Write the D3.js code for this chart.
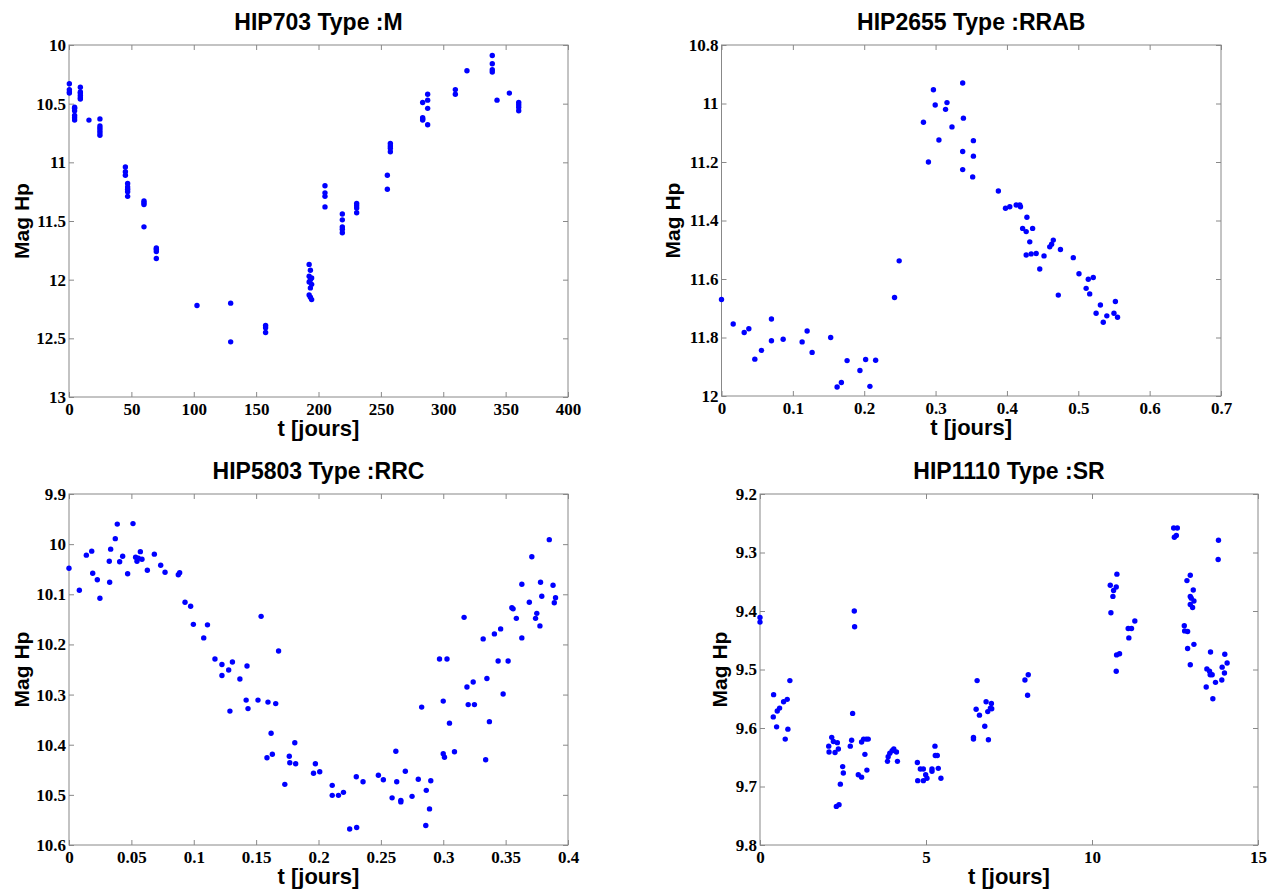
<!DOCTYPE html>
<html>
<head>
<meta charset="utf-8">
<script src="https://cdn.jsdelivr.net/npm/d3@7"></script>
<style>
  body { margin: 0; background: #fff; }
  .tick text { font-family: "Liberation Serif", "Times New Roman", serif; font-weight: bold; font-size: 17px; fill: #000; }
  .tick line { stroke: #888; }
</style>
</head>
<body>
<div id="chart"></div>
<script>
// HIP703, type M
const hip703T = [
  0.3, 0.3, 0.3, 0.3,
  4.5, 4.5, 4.5, 4.5, 4.5, 4.5,
  9.1, 9.1, 9.1, 9.1, 9.1, 9.1,
  16,
  24.8, 24.8, 24.8, 24.8, 24.8, 24.8,
  45.2, 45.2, 45.2, 47, 47, 47, 47, 47,
  60.1, 60.1, 60.1, 60.1,
  70, 70, 70, 70,
  102.6,
  129.6, 129.6,
  157.6, 157.6, 157.6,
  192.5, 193.5, 192.5, 194.5, 193.5, 192.5, 194.5, 193.5, 192.5, 193.5, 194.5,
  205.2, 205.2, 205.2, 205.2,
  219.1, 219.1, 219.1, 219.1, 219.1,
  230.6, 230.6, 230.6, 230.6,
  255.2, 255.2,
  257.6, 257.6, 257.6, 257.6,
  283.5, 283.5, 283.5, 283.5,
  287.5, 287.5, 287.5, 287.5,
  309.7, 309.7,
  319,
  339.3, 339.3, 339.3, 339.3,
  343.1,
  353,
  360.5, 360.5, 360.5, 360.5
];
const hip703Mag = [
  10.33, 10.38, 10.40, 10.41,
  10.53, 10.54, 10.56, 10.60, 10.62, 10.64,
  10.36, 10.40, 10.41, 10.43, 10.45, 10.46,
  10.64,
  10.63, 10.69, 10.71, 10.73, 10.75, 10.77,
  11.04, 11.08, 11.11, 11.18, 11.21, 11.23, 11.25, 11.29,
  11.33, 11.345, 11.36, 11.55,
  11.73, 11.74, 11.76, 11.82,
  12.22,
  12.20, 12.53,
  12.39, 12.41, 12.45,
  11.87, 11.92, 11.97, 11.985, 12.00, 12.02, 12.04, 12.07, 12.13, 12.15, 12.17,
  11.20, 11.26, 11.29, 11.38,
  11.44, 11.49, 11.55, 11.57, 11.60,
  11.35, 11.37, 11.39, 11.43,
  11.11, 11.23,
  10.84, 10.86, 10.88, 10.91,
  10.49, 10.62, 10.63, 10.64,
  10.42, 10.47, 10.54, 10.68,
  10.38, 10.42,
  10.22,
  10.09, 10.16, 10.21, 10.23,
  10.47,
  10.41,
  10.49, 10.51, 10.53, 10.56
];

// HIP2655, type RRAB
const hip2655T = [
  0, 0.0164, 0.0318, 0.0383, 0.0467, 0.056, 0.070, 0.070, 0.0864, 0.113,
  0.120, 0.127, 0.153, 0.162, 0.168, 0.176, 0.194, 0.202, 0.208, 0.216,
  0.2425, 0.249, 0.283, 0.290, 0.297, 0.2995, 0.3047, 0.314, 0.316, 0.323,
  0.338, 0.338, 0.339, 0.338, 0.353, 0.353, 0.352,
  0.388, 0.398, 0.404, 0.413, 0.418, 0.419, 0.428, 0.422, 0.427, 0.436,
  0.432, 0.427, 0.434, 0.441, 0.452, 0.446, 0.460, 0.4626, 0.465, 0.475,
  0.472, 0.493, 0.501, 0.511, 0.514, 0.516, 0.521, 0.525, 0.531, 0.535,
  0.540, 0.550, 0.552, 0.555
];
const hip2655Mag = [
  11.67, 11.754, 11.783, 11.770, 11.874, 11.844, 11.811, 11.737, 11.806, 11.815,
  11.778, 11.851, 11.80, 11.969, 11.954, 11.879, 11.913, 11.875, 11.967, 11.878,
  11.663, 11.538, 11.064, 11.20, 10.953, 11.005, 11.125, 11.02, 10.997, 11.08,
  11.164, 10.93, 11.05, 11.226, 11.127, 11.18, 11.251,
  11.299, 11.358, 11.353, 11.347, 11.347, 11.353, 11.389, 11.427, 11.438, 11.427,
  11.473, 11.518, 11.514, 11.513, 11.521, 11.566, 11.49, 11.481, 11.467, 11.499,
  11.655, 11.527, 11.582, 11.632, 11.601, 11.651, 11.595, 11.717, 11.689, 11.748,
  11.726, 11.717, 11.677, 11.731
];

// HIP5803, type RRC
const hip5803T = [
  0, 0.0083, 0.0139, 0.0182, 0.019, 0.0227, 0.0248, 0.0323, 0.0326, 0.0334,
  0.0371, 0.0387, 0.0406, 0.043, 0.047, 0.0513, 0.0534, 0.0545, 0.0556, 0.0572,
  0.0585, 0.0628, 0.0684, 0.0735, 0.077, 0.0876, 0.0887, 0.093, 0.0975, 0.0997,
  0.111, 0.108, 0.117, 0.1226, 0.1226, 0.128, 0.131, 0.129, 0.137, 0.1427,
  0.142, 0.1435, 0.1515, 0.154, 0.1595, 0.162, 0.1587, 0.163, 0.1657, 0.168,
  0.173, 0.1766, 0.177, 0.181, 0.1817, 0.196, 0.1975, 0.201,
  0.211, 0.211, 0.216, 0.220, 0.225, 0.2306, 0.2303, 0.2357, 0.248, 0.252,
  0.259, 0.262, 0.2627, 0.266, 0.266, 0.2696, 0.275, 0.280, 0.286, 0.2864,
  0.289, 0.290, 0.2827, 0.297, 0.303, 0.300, 0.300, 0.301, 0.305, 0.309,
  0.3167, 0.319, 0.320, 0.325, 0.324, 0.332, 0.334, 0.335, 0.337, 0.341,
  0.344, 0.346, 0.348, 0.352, 0.355, 0.356, 0.3586, 0.363, 0.363, 0.369,
  0.371, 0.374, 0.375, 0.3775, 0.378, 0.379, 0.385, 0.388, 0.389, 0.390
];
const hip5803Mag = [
  10.048, 10.092, 10.022, 10.014, 10.058, 10.071, 10.108, 10.034, 10.076, 10.01,
  9.989, 9.96, 10.035, 10.024, 10.059, 9.959, 10.026, 10.034, 10.028, 10.015,
  10.03, 10.052, 10.02, 10.042, 10.056, 10.061, 10.057, 10.116, 10.124, 10.16,
  10.161, 10.187, 10.229, 10.24, 10.262, 10.251, 10.235, 10.333, 10.269, 10.243,
  10.311, 10.328, 10.311, 10.144, 10.315, 10.377, 10.426, 10.419, 10.318, 10.213,
  10.479, 10.423, 10.436, 10.396, 10.438, 10.457, 10.438, 10.454,
  10.481, 10.501, 10.501, 10.495, 10.568, 10.565, 10.464, 10.474, 10.461, 10.47,
  10.506, 10.413, 10.474, 10.511, 10.514, 10.453, 10.503, 10.469, 10.561, 10.491,
  10.528, 10.472, 10.325, 10.229, 10.229, 10.313, 10.418, 10.425, 10.357, 10.414,
  10.146, 10.285, 10.32, 10.32, 10.275, 10.189, 10.43, 10.268, 10.354, 10.179,
  10.233, 10.169, 10.299, 10.233, 10.127, 10.129, 10.148, 10.08, 10.187, 10.116,
  10.025, 10.148, 10.138, 10.163, 10.076, 10.104, 9.991, 10.082, 10.117, 10.107
];

// HIP1110, type SR
const hip1110T = [
  0, 0, 0.40, 0.41, 0.50, 0.52, 0.59, 0.76, 0.71, 0.82, 0.84, 0.90,
  2.07, 2.08, 2.16, 2.21, 2.26, 2.33, 2.36, 2.30, 2.38, 2.42, 2.49, 2.51,
  2.72, 2.76, 2.79, 2.84, 2.85, 2.96, 3.06, 3.06, 3.12, 3.16, 3.20, 3.26, 3.22,
  3.84, 3.86, 3.91, 3.98, 4.03, 4.11, 4.14,
  4.74, 4.75, 4.83, 4.92, 4.92, 4.99, 5.03, 5.18, 5.18, 5.27, 5.28, 5.34, 5.37, 5.45,
  6.43, 6.43, 6.51, 6.54, 6.61, 6.77, 6.81, 6.86, 6.88, 6.94, 6.97, 6.98,
  7.98, 8.08, 8.06,
  10.55, 10.75, 10.73, 10.65, 10.63, 10.57, 10.74, 10.83, 10.73,
  11.29, 11.19, 11.09, 11.11,
  12.46, 12.57, 12.48, 12.54, 13.81, 13.80,
  12.96, 12.86, 13.05, 12.96, 12.99, 13.07, 12.96, 13.03, 12.78, 12.79, 12.88,
  13.07, 12.88, 12.96,
  13.57, 14.00, 14.07, 13.92, 13.46, 13.54, 13.56, 13.62, 13.99, 13.72, 13.91,
  13.44, 13.64
];
const hip1110Mag = [
  9.411, 9.419, 9.581, 9.543, 9.598, 9.571, 9.566, 9.619, 9.555, 9.551, 9.602, 9.519,
  9.631, 9.641, 9.616, 9.623, 9.642, 9.625, 9.636, 9.734, 9.731, 9.696, 9.666, 9.677,
  9.631, 9.621, 9.575, 9.40, 9.427, 9.68, 9.684, 9.624, 9.619, 9.645, 9.619, 9.619, 9.672,
  9.657, 9.649, 9.643, 9.639, 9.636, 9.641, 9.657,
  9.659, 9.69, 9.67, 9.69, 9.67, 9.68, 9.686, 9.67, 9.674, 9.631, 9.647, 9.647, 9.669, 9.686,
  9.616, 9.619, 9.568, 9.519, 9.578, 9.597, 9.555, 9.572, 9.62, 9.566, 9.558, 9.567,
  9.518, 9.509, 9.544,
  9.356, 9.337, 9.359, 9.365, 9.375, 9.403, 9.475, 9.473, 9.503,
  9.417, 9.43, 9.43, 9.446,
  9.258, 9.258, 9.274, 9.271, 9.279, 9.312,
  9.339, 9.348, 9.364, 9.375, 9.378, 9.383, 9.389, 9.394, 9.425, 9.434, 9.435,
  9.457, 9.464, 9.492,
  9.47, 9.474, 9.489, 9.496, 9.499, 9.503, 9.509, 9.509, 9.506, 9.522, 9.518,
  9.53, 9.55
];

// tick values
const hip703XTicks = [0, 50, 100, 150, 200, 250, 300, 350, 400];
const hip703YTicks = [10, 10.5, 11, 11.5, 12, 12.5, 13];
const hip2655XTicks = [0, 0.1, 0.2, 0.3, 0.4, 0.5, 0.6, 0.7];
const hip2655YTicks = [10.8, 11, 11.2, 11.4, 11.6, 11.8, 12];
const hip5803XTicks = [0, 0.05, 0.1, 0.15, 0.2, 0.25, 0.3, 0.35, 0.4];
const hip5803YTicks = [9.9, 10, 10.1, 10.2, 10.3, 10.4, 10.5, 10.6];
const hip1110XTicks = [0, 5, 10, 15];
const hip1110YTicks = [9.2, 9.3, 9.4, 9.5, 9.6, 9.7, 9.8];

const panels = [
  { title: "HIP703 Type :M", t: hip703T, mag: hip703Mag, xTicks: hip703XTicks, yTicks: hip703YTicks,
    box: { x: 69, y: 45, w: 499, h: 352 }, yLabelOff: 40 },
  { title: "HIP2655 Type :RRAB", t: hip2655T, mag: hip2655Mag, xTicks: hip2655XTicks, yTicks: hip2655YTicks,
    box: { x: 721.5, y: 45, w: 499.5, h: 351 }, yLabelOff: 42 },
  { title: "HIP5803 Type :RRC", t: hip5803T, mag: hip5803Mag, xTicks: hip5803XTicks, yTicks: hip5803YTicks,
    box: { x: 69, y: 494, w: 499, h: 351 }, yLabelOff: 40 },
  { title: "HIP1110 Type :SR", t: hip1110T, mag: hip1110Mag, xTicks: hip1110XTicks, yTicks: hip1110YTicks,
    box: { x: 760, y: 494, w: 498, h: 351 }, yLabelOff: 33 }
];

const svg = d3.select("#chart").append("svg")
  .attr("width", 1285)
  .attr("height", 895)
  .style("background", "#fff");

const fmt = d => String(+d.toFixed(3));

panels.forEach(p => {
  const { x, y, w, h } = p.box;
  const g = svg.append("g").attr("transform", `translate(${x},${y})`);

  const xs = d3.scaleLinear()
    .domain(d3.extent(p.xTicks))
    .range([0, w]);
  const ys = d3.scaleLinear()
    .domain(d3.extent(p.yTicks))
    .range([0, h]);

  // Axes with inward ticks (labels only on bottom and left)
  g.append("g").attr("transform", `translate(0,${h})`)
    .call(d3.axisBottom(xs).tickValues(p.xTicks).tickFormat(fmt).tickSize(-5).tickPadding(6));
  g.append("g")
    .call(d3.axisTop(xs).tickValues(p.xTicks).tickFormat("").tickSize(-5));
  g.append("g")
    .call(d3.axisLeft(ys).tickValues(p.yTicks).tickFormat(fmt).tickSize(-5).tickPadding(3));
  g.append("g").attr("transform", `translate(${w},0)`)
    .call(d3.axisRight(ys).tickValues(p.yTicks).tickFormat("").tickSize(-5));
  g.selectAll(".domain").remove();

  // Frame
  g.append("rect")
    .attr("width", w)
    .attr("height", h)
    .attr("fill", "none")
    .attr("stroke", "#888")
    .attr("stroke-width", 1);

  // Points
  g.append("g").selectAll("circle")
    .data(p.t.map((t, i) => ({ t, m: p.mag[i] })))
    .enter()
    .append("circle")
    .attr("cx", d => xs(d.t))
    .attr("cy", d => ys(d.m))
    .attr("r", 2.7)
    .attr("fill", "#0000ff");

  // Title
  g.append("text")
    .attr("x", w / 2)
    .attr("y", -15)
    .attr("text-anchor", "middle")
    .style("font-family", "'Liberation Sans', Arial, sans-serif")
    .style("font-weight", "bold")
    .style("font-size", "23px")
    .text(p.title);

  // X label
  g.append("text")
    .attr("x", w / 2)
    .attr("y", h + 39)
    .attr("text-anchor", "middle")
    .style("font-family", "'Liberation Sans', Arial, sans-serif")
    .style("font-weight", "bold")
    .style("font-size", "22px")
    .text("t [jours]");

  // Y label
  g.append("text")
    .attr("transform", `translate(${-p.yLabelOff},${h / 2}) rotate(-90)`)
    .attr("text-anchor", "middle")
    .style("font-family", "'Liberation Sans', Arial, sans-serif")
    .style("font-weight", "bold")
    .style("font-size", "21px")
    .text("Mag Hp");
});
</script>
</body>
</html>
